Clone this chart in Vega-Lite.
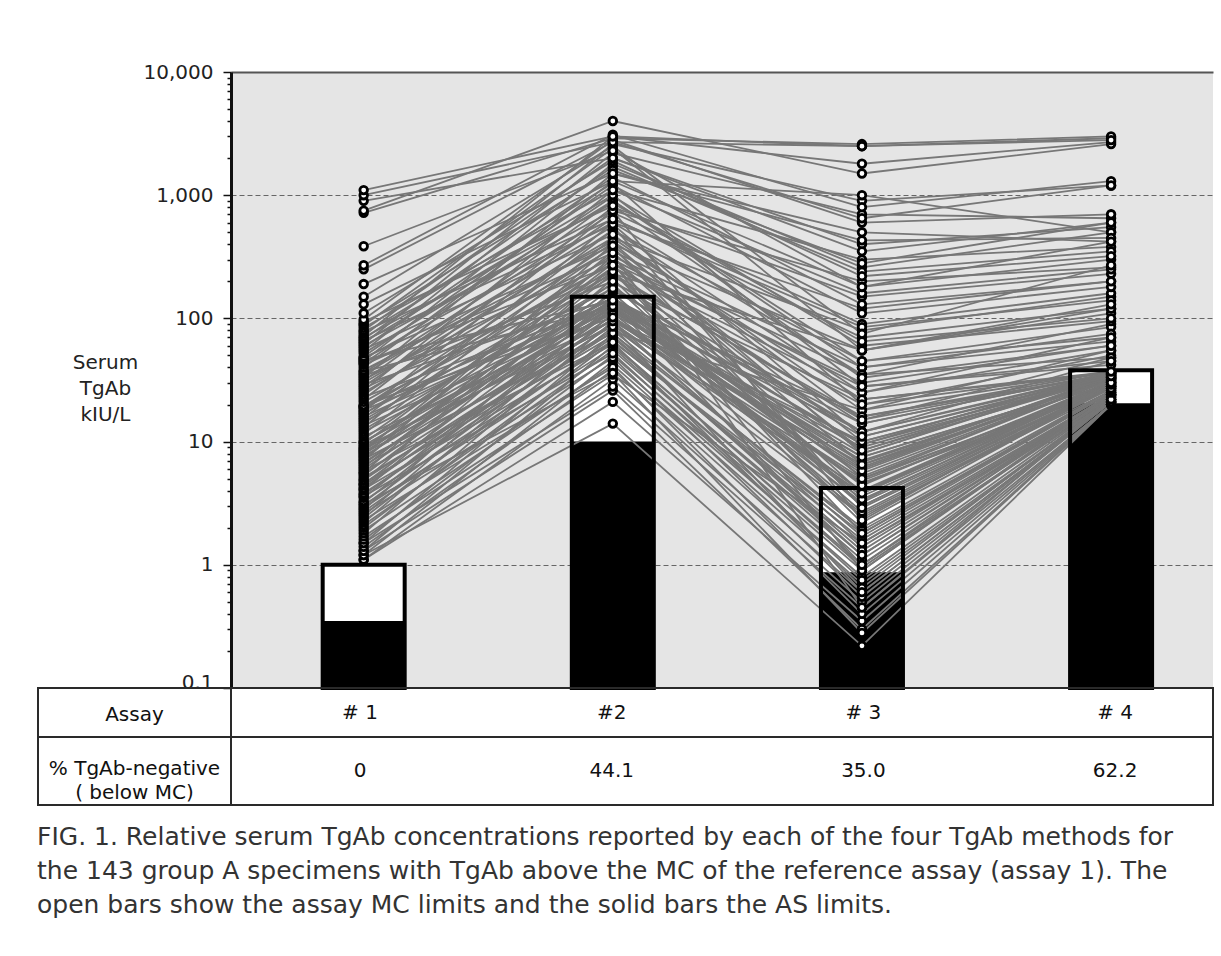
{
  "$schema": "https://vega.github.io/schema/vega-lite/v6.json",
  "background": "white",
  "padding": {"left": 37, "top": 62, "right": 8, "bottom": 20},
  "config": {
    "view": {"stroke": "#2a2a2a", "strokeWidth": 2},
    "font": "DejaVu Sans",
    "text": {"font": "DejaVu Sans"}
  },
  "title": {
    "text": [
      "FIG. 1.  Relative serum TgAb concentrations reported by each of the four TgAb methods for",
      "the 143 group A specimens with TgAb above the MC of the reference assay (assay 1). The",
      "open bars show the assay MC limits and the solid bars the AS limits."
    ],
    "orient": "bottom",
    "anchor": "start",
    "font": "DejaVu Sans",
    "fontSize": 25,
    "fontWeight": "normal",
    "color": "#333333",
    "lineHeight": 34,
    "baseline": "top",
    "offset": 19
  },
  "datasets": {
    "bars": [
      {"assay": 1, "mc": 1.0, "as": 0.35},
      {"assay": 2, "mc": 150, "as": 10},
      {"assay": 3, "mc": 4.2, "as": 0.87},
      {"assay": 4, "mc": 38, "as": 20.5}
    ],
    "table": [
      {"row": "assay", "assay": 1, "text": "# 1"},
      {"row": "assay", "assay": 2, "text": "#2"},
      {"row": "assay", "assay": 3, "text": "# 3"},
      {"row": "assay", "assay": 4, "text": "# 4"},
      {"row": "neg", "assay": 1, "text": "0"},
      {"row": "neg", "assay": 2, "text": "44.1"},
      {"row": "neg", "assay": 3, "text": "35.0"},
      {"row": "neg", "assay": 4, "text": "62.2"}
    ],
    "spec": [
      {"s":1,"a":1,"v":1.1},{"s":1,"a":2,"v":21},{"s":1,"a":3,"v":0.35},{"s":1,"a":4,"v":20},
      {"s":2,"a":1,"v":1.1},{"s":2,"a":2,"v":32},{"s":2,"a":3,"v":0.5},{"s":2,"a":4,"v":21},
      {"s":3,"a":1,"v":1.2},{"s":3,"a":2,"v":14},{"s":3,"a":3,"v":0.22},{"s":3,"a":4,"v":20},
      {"s":4,"a":1,"v":1.2},{"s":4,"a":2,"v":45},{"s":4,"a":3,"v":0.8},{"s":4,"a":4,"v":22},
      {"s":5,"a":1,"v":1.3},{"s":5,"a":2,"v":26},{"s":5,"a":3,"v":0.3},{"s":5,"a":4,"v":20},
      {"s":6,"a":1,"v":1.3},{"s":6,"a":2,"v":60},{"s":6,"a":3,"v":1.2},{"s":6,"a":4,"v":24},
      {"s":7,"a":1,"v":1.4},{"s":7,"a":2,"v":38},{"s":7,"a":3,"v":0.6},{"s":7,"a":4,"v":21},
      {"s":8,"a":1,"v":1.5},{"s":8,"a":2,"v":28},{"s":8,"a":3,"v":0.45},{"s":8,"a":4,"v":20},
      {"s":9,"a":1,"v":1.5},{"s":9,"a":2,"v":75},{"s":9,"a":3,"v":2.0},{"s":9,"a":4,"v":26},
      {"s":10,"a":1,"v":1.6},{"s":10,"a":2,"v":50},{"s":10,"a":3,"v":0.9},{"s":10,"a":4,"v":23},
      {"s":11,"a":1,"v":1.7},{"s":11,"a":2,"v":35},{"s":11,"a":3,"v":1.5},{"s":11,"a":4,"v":22},
      {"s":12,"a":1,"v":1.8},{"s":12,"a":2,"v":95},{"s":12,"a":3,"v":6.5},{"s":12,"a":4,"v":30},
      {"s":13,"a":1,"v":1.9},{"s":13,"a":2,"v":42},{"s":13,"a":3,"v":0.7},{"s":13,"a":4,"v":21},
      {"s":14,"a":1,"v":2.0},{"s":14,"a":2,"v":65},{"s":14,"a":3,"v":1.8},{"s":14,"a":4,"v":25},
      {"s":15,"a":1,"v":2.1},{"s":15,"a":2,"v":55},{"s":15,"a":3,"v":1.0},{"s":15,"a":4,"v":22},
      {"s":16,"a":1,"v":2.2},{"s":16,"a":2,"v":110},{"s":16,"a":3,"v":3.2},{"s":16,"a":4,"v":28},
      {"s":17,"a":1,"v":2.3},{"s":17,"a":2,"v":40},{"s":17,"a":3,"v":0.4},{"s":17,"a":4,"v":20},
      {"s":18,"a":1,"v":2.4},{"s":18,"a":2,"v":85},{"s":18,"a":3,"v":2.5},{"s":18,"a":4,"v":26},
      {"s":19,"a":1,"v":2.5},{"s":19,"a":2,"v":130},{"s":19,"a":3,"v":8.0},{"s":19,"a":4,"v":35},
      {"s":20,"a":1,"v":2.6},{"s":20,"a":2,"v":48},{"s":20,"a":3,"v":0.55},{"s":20,"a":4,"v":21},
      {"s":21,"a":1,"v":2.7},{"s":21,"a":2,"v":70},{"s":21,"a":3,"v":1.4},{"s":21,"a":4,"v":24},
      {"s":22,"a":1,"v":2.8},{"s":22,"a":2,"v":170},{"s":22,"a":3,"v":12},{"s":22,"a":4,"v":45},
      {"s":23,"a":1,"v":2.9},{"s":23,"a":2,"v":58},{"s":23,"a":3,"v":0.95},{"s":23,"a":4,"v":22},
      {"s":24,"a":1,"v":3.0},{"s":24,"a":2,"v":92},{"s":24,"a":3,"v":3.8},{"s":24,"a":4,"v":30},
      {"s":25,"a":1,"v":3.1},{"s":25,"a":2,"v":36},{"s":25,"a":3,"v":0.28},{"s":25,"a":4,"v":20},
      {"s":26,"a":1,"v":3.2},{"s":26,"a":2,"v":120},{"s":26,"a":3,"v":5.5},{"s":26,"a":4,"v":32},
      {"s":27,"a":1,"v":3.3},{"s":27,"a":2,"v":66},{"s":27,"a":3,"v":1.6},{"s":27,"a":4,"v":24},
      {"s":28,"a":1,"v":3.5},{"s":28,"a":2,"v":140},{"s":28,"a":3,"v":9.5},{"s":28,"a":4,"v":37},
      {"s":29,"a":1,"v":3.6},{"s":29,"a":2,"v":52},{"s":29,"a":3,"v":0.75},{"s":29,"a":4,"v":21},
      {"s":30,"a":1,"v":3.7},{"s":30,"a":2,"v":100},{"s":30,"a":3,"v":5.0},{"s":30,"a":4,"v":27},
      {"s":31,"a":1,"v":3.8},{"s":31,"a":2,"v":78},{"s":31,"a":3,"v":18},{"s":31,"a":4,"v":55},
      {"s":32,"a":1,"v":4.0},{"s":32,"a":2,"v":210},{"s":32,"a":3,"v":2.2},{"s":32,"a":4,"v":28},
      {"s":33,"a":1,"v":4.1},{"s":33,"a":2,"v":62},{"s":33,"a":3,"v":1.1},{"s":33,"a":4,"v":23},
      {"s":34,"a":1,"v":4.2},{"s":34,"a":2,"v":115},{"s":34,"a":3,"v":6.0},{"s":34,"a":4,"v":33},
      {"s":35,"a":1,"v":4.4},{"s":35,"a":2,"v":88},{"s":35,"a":3,"v":4.8},{"s":35,"a":4,"v":29},
      {"s":36,"a":1,"v":4.5},{"s":36,"a":2,"v":145},{"s":36,"a":3,"v":14},{"s":36,"a":4,"v":36},
      {"s":37,"a":1,"v":4.6},{"s":37,"a":2,"v":72},{"s":37,"a":3,"v":1.3},{"s":37,"a":4,"v":24},
      {"s":38,"a":1,"v":4.8},{"s":38,"a":2,"v":260},{"s":38,"a":3,"v":25},{"s":38,"a":4,"v":70},
      {"s":39,"a":1,"v":4.9},{"s":39,"a":2,"v":98},{"s":39,"a":3,"v":4.0},{"s":39,"a":4,"v":31},
      {"s":40,"a":1,"v":5.1},{"s":40,"a":2,"v":80},{"s":40,"a":3,"v":1.9},{"s":40,"a":4,"v":25},
      {"s":41,"a":1,"v":5.3},{"s":41,"a":2,"v":180},{"s":41,"a":3,"v":8.5},{"s":41,"a":4,"v":36},
      {"s":42,"a":1,"v":5.5},{"s":42,"a":2,"v":105},{"s":42,"a":3,"v":2.6},{"s":42,"a":4,"v":27},
      {"s":43,"a":1,"v":5.6},{"s":43,"a":2,"v":320},{"s":43,"a":3,"v":35},{"s":43,"a":4,"v":90},
      {"s":44,"a":1,"v":5.8},{"s":44,"a":2,"v":64},{"s":44,"a":3,"v":0.65},{"s":44,"a":4,"v":22},
      {"s":45,"a":1,"v":6.0},{"s":45,"a":2,"v":135},{"s":45,"a":3,"v":4.5},{"s":45,"a":4,"v":30},
      {"s":46,"a":1,"v":6.2},{"s":46,"a":2,"v":230},{"s":46,"a":3,"v":15},{"s":46,"a":4,"v":48},
      {"s":47,"a":1,"v":6.4},{"s":47,"a":2,"v":90},{"s":47,"a":3,"v":1.7},{"s":47,"a":4,"v":25},
      {"s":48,"a":1,"v":6.6},{"s":48,"a":2,"v":160},{"s":48,"a":3,"v":3.0},{"s":48,"a":4,"v":28},
      {"s":49,"a":1,"v":6.8},{"s":49,"a":2,"v":118},{"s":49,"a":3,"v":6.8},{"s":49,"a":4,"v":33},
      {"s":50,"a":1,"v":7.0},{"s":50,"a":2,"v":400},{"s":50,"a":3,"v":55},{"s":50,"a":4,"v":120},
      {"s":51,"a":1,"v":7.2},{"s":51,"a":2,"v":76},{"s":51,"a":3,"v":1.2},{"s":51,"a":4,"v":23},
      {"s":52,"a":1,"v":7.4},{"s":52,"a":2,"v":195},{"s":52,"a":3,"v":22},{"s":52,"a":4,"v":37},
      {"s":53,"a":1,"v":7.6},{"s":53,"a":2,"v":125},{"s":53,"a":3,"v":3.6},{"s":53,"a":4,"v":29},
      {"s":54,"a":1,"v":7.8},{"s":54,"a":2,"v":280},{"s":54,"a":3,"v":0.9},{"s":54,"a":4,"v":24},
      {"s":55,"a":1,"v":8.0},{"s":55,"a":2,"v":98},{"s":55,"a":3,"v":10},{"s":55,"a":4,"v":34},
      {"s":56,"a":1,"v":8.2},{"s":56,"a":2,"v":142},{"s":56,"a":3,"v":4.6},{"s":56,"a":4,"v":27},
      {"s":57,"a":1,"v":8.4},{"s":57,"a":2,"v":350},{"s":57,"a":3,"v":40},{"s":57,"a":4,"v":65},
      {"s":58,"a":1,"v":8.6},{"s":58,"a":2,"v":112},{"s":58,"a":3,"v":7.5},{"s":58,"a":4,"v":31},
      {"s":59,"a":1,"v":8.8},{"s":59,"a":2,"v":240},{"s":59,"a":3,"v":3.3},{"s":59,"a":4,"v":30},
      {"s":60,"a":1,"v":9.0},{"s":60,"a":2,"v":86},{"s":60,"a":3,"v":0.6},{"s":60,"a":4,"v":21},
      {"s":61,"a":1,"v":9.3},{"s":61,"a":2,"v":128},{"s":61,"a":3,"v":12},{"s":61,"a":4,"v":36},
      {"s":62,"a":1,"v":9.6},{"s":62,"a":2,"v":300},{"s":62,"a":3,"v":28},{"s":62,"a":4,"v":42},
      {"s":63,"a":1,"v":9.9},{"s":63,"a":2,"v":148},{"s":63,"a":3,"v":5.2},{"s":63,"a":4,"v":32},
      {"s":64,"a":1,"v":10},{"s":64,"a":2,"v":120},{"s":64,"a":3,"v":3.9},{"s":64,"a":4,"v":30},
      {"s":65,"a":1,"v":10.5},{"s":65,"a":2,"v":260},{"s":65,"a":3,"v":20},{"s":65,"a":4,"v":50},
      {"s":66,"a":1,"v":11},{"s":66,"a":2,"v":95},{"s":66,"a":3,"v":1.5},{"s":66,"a":4,"v":24},
      {"s":67,"a":1,"v":11.5},{"s":67,"a":2,"v":450},{"s":67,"a":3,"v":80},{"s":67,"a":4,"v":150},
      {"s":68,"a":1,"v":12},{"s":68,"a":2,"v":138},{"s":68,"a":3,"v":6.2},{"s":68,"a":4,"v":33},
      {"s":69,"a":1,"v":12.5},{"s":69,"a":2,"v":190},{"s":69,"a":3,"v":2.4},{"s":69,"a":4,"v":28},
      {"s":70,"a":1,"v":13},{"s":70,"a":2,"v":600},{"s":70,"a":3,"v":120},{"s":70,"a":4,"v":200},
      {"s":71,"a":1,"v":13.5},{"s":71,"a":2,"v":108},{"s":71,"a":3,"v":9.0},{"s":71,"a":4,"v":34},
      {"s":72,"a":1,"v":14},{"s":72,"a":2,"v":330},{"s":72,"a":3,"v":0.45},{"s":72,"a":4,"v":22},
      {"s":73,"a":1,"v":14.5},{"s":73,"a":2,"v":146},{"s":73,"a":3,"v":4.4},{"s":73,"a":4,"v":31},
      {"s":74,"a":1,"v":15},{"s":74,"a":2,"v":220},{"s":74,"a":3,"v":16},{"s":74,"a":4,"v":37},
      {"s":75,"a":1,"v":15.5},{"s":75,"a":2,"v":520},{"s":75,"a":3,"v":45},{"s":75,"a":4,"v":85},
      {"s":76,"a":1,"v":16},{"s":76,"a":2,"v":132},{"s":76,"a":3,"v":1.0},{"s":76,"a":4,"v":25},
      {"s":77,"a":1,"v":16.5},{"s":77,"a":2,"v":380},{"s":77,"a":3,"v":3.0},{"s":77,"a":4,"v":29},
      {"s":78,"a":1,"v":17},{"s":78,"a":2,"v":175},{"s":78,"a":3,"v":11},{"s":78,"a":4,"v":35},
      {"s":79,"a":1,"v":17.5},{"s":79,"a":2,"v":750},{"s":79,"a":3,"v":200},{"s":79,"a":4,"v":260},
      {"s":80,"a":1,"v":18},{"s":80,"a":2,"v":125},{"s":80,"a":3,"v":7.0},{"s":80,"a":4,"v":32},
      {"s":81,"a":1,"v":18.5},{"s":81,"a":2,"v":280},{"s":81,"a":3,"v":30},{"s":81,"a":4,"v":60},
      {"s":82,"a":1,"v":19},{"s":82,"a":2,"v":143},{"s":82,"a":3,"v":2.7},{"s":82,"a":4,"v":28},
      {"s":83,"a":1,"v":19.2},{"s":83,"a":2,"v":410},{"s":83,"a":3,"v":8.0},{"s":83,"a":4,"v":36},
      {"s":84,"a":1,"v":19.5},{"s":84,"a":2,"v":230},{"s":84,"a":3,"v":55},{"s":84,"a":4,"v":110},
      {"s":85,"a":1,"v":19.8},{"s":85,"a":2,"v":102},{"s":85,"a":3,"v":5.8},{"s":85,"a":4,"v":33},
      {"s":86,"a":1,"v":21},{"s":86,"a":2,"v":280},{"s":86,"a":3,"v":14},{"s":86,"a":4,"v":36},
      {"s":87,"a":1,"v":22},{"s":87,"a":2,"v":800},{"s":87,"a":3,"v":150},{"s":87,"a":4,"v":230},
      {"s":88,"a":1,"v":23},{"s":88,"a":2,"v":130},{"s":88,"a":3,"v":3.4},{"s":88,"a":4,"v":28},
      {"s":89,"a":1,"v":24},{"s":89,"a":2,"v":520},{"s":89,"a":3,"v":25},{"s":89,"a":4,"v":55},
      {"s":90,"a":1,"v":25},{"s":90,"a":2,"v":370},{"s":90,"a":3,"v":6.5},{"s":90,"a":4,"v":34},
      {"s":91,"a":1,"v":26},{"s":91,"a":2,"v":1100},{"s":91,"a":3,"v":300},{"s":91,"a":4,"v":380},
      {"s":92,"a":1,"v":27},{"s":92,"a":2,"v":240},{"s":92,"a":3,"v":1.8},{"s":92,"a":4,"v":26},
      {"s":93,"a":1,"v":28},{"s":93,"a":2,"v":650},{"s":93,"a":3,"v":70},{"s":93,"a":4,"v":120},
      {"s":94,"a":1,"v":29},{"s":94,"a":2,"v":145},{"s":94,"a":3,"v":9.5},{"s":94,"a":4,"v":33},
      {"s":95,"a":1,"v":30},{"s":95,"a":2,"v":450},{"s":95,"a":3,"v":18},{"s":95,"a":4,"v":37},
      {"s":96,"a":1,"v":31},{"s":96,"a":2,"v":900},{"s":96,"a":3,"v":40},{"s":96,"a":4,"v":75},
      {"s":97,"a":1,"v":32},{"s":97,"a":2,"v":310},{"s":97,"a":3,"v":5.0},{"s":97,"a":4,"v":32},
      {"s":98,"a":1,"v":33},{"s":98,"a":2,"v":1500},{"s":98,"a":3,"v":500},{"s":98,"a":4,"v":420},
      {"s":99,"a":1,"v":34},{"s":99,"a":2,"v":200},{"s":99,"a":3,"v":12},{"s":99,"a":4,"v":35},
      {"s":100,"a":1,"v":35},{"s":100,"a":2,"v":560},{"s":100,"a":3,"v":2.9},{"s":100,"a":4,"v":27},
      {"s":101,"a":1,"v":36},{"s":101,"a":2,"v":720},{"s":101,"a":3,"v":90},{"s":101,"a":4,"v":160},
      {"s":102,"a":1,"v":37},{"s":102,"a":2,"v":125},{"s":102,"a":3,"v":7.5},{"s":102,"a":4,"v":31},
      {"s":103,"a":1,"v":38},{"s":103,"a":2,"v":420},{"s":103,"a":3,"v":22},{"s":103,"a":4,"v":36},
      {"s":104,"a":1,"v":40},{"s":104,"a":2,"v":1300},{"s":104,"a":3,"v":180},{"s":104,"a":4,"v":300},
      {"s":105,"a":1,"v":42},{"s":105,"a":2,"v":340},{"s":105,"a":3,"v":8.5},{"s":105,"a":4,"v":33},
      {"s":106,"a":1,"v":43},{"s":106,"a":2,"v":980},{"s":106,"a":3,"v":60},{"s":106,"a":4,"v":95},
      {"s":107,"a":1,"v":44},{"s":107,"a":2,"v":270},{"s":107,"a":3,"v":3.8},{"s":107,"a":4,"v":29},
      {"s":108,"a":1,"v":45},{"s":108,"a":2,"v":1800},{"s":108,"a":3,"v":260},{"s":108,"a":4,"v":500},
      {"s":109,"a":1,"v":46},{"s":109,"a":2,"v":140},{"s":109,"a":3,"v":16},{"s":109,"a":4,"v":35},
      {"s":110,"a":1,"v":47},{"s":110,"a":2,"v":600},{"s":110,"a":3,"v":35},{"s":110,"a":4,"v":48},
      {"s":111,"a":1,"v":48},{"s":111,"a":2,"v":390},{"s":111,"a":3,"v":10},{"s":111,"a":4,"v":34},
      {"s":112,"a":1,"v":49},{"s":112,"a":2,"v":1200},{"s":112,"a":3,"v":110},{"s":112,"a":4,"v":180},
      {"s":113,"a":1,"v":52},{"s":113,"a":2,"v":900},{"s":113,"a":3,"v":45},{"s":113,"a":4,"v":70},
      {"s":114,"a":1,"v":54},{"s":114,"a":2,"v":2200},{"s":114,"a":3,"v":700},{"s":114,"a":4,"v":650},
      {"s":115,"a":1,"v":56},{"s":115,"a":2,"v":480},{"s":115,"a":3,"v":15},{"s":115,"a":4,"v":36},
      {"s":116,"a":1,"v":58},{"s":116,"a":2,"v":1400},{"s":116,"a":3,"v":130},{"s":116,"a":4,"v":200},
      {"s":117,"a":1,"v":60},{"s":117,"a":2,"v":750},{"s":117,"a":3,"v":2.3},{"s":117,"a":4,"v":30},
      {"s":118,"a":1,"v":62},{"s":118,"a":2,"v":2600},{"s":118,"a":3,"v":900},{"s":118,"a":4,"v":1200},
      {"s":119,"a":1,"v":64},{"s":119,"a":2,"v":1000},{"s":119,"a":3,"v":28},{"s":119,"a":4,"v":45},
      {"s":120,"a":1,"v":66},{"s":120,"a":2,"v":580},{"s":120,"a":3,"v":11},{"s":120,"a":4,"v":34},
      {"s":121,"a":1,"v":68},{"s":121,"a":2,"v":1700},{"s":121,"a":3,"v":240},{"s":121,"a":4,"v":350},
      {"s":122,"a":1,"v":70},{"s":122,"a":2,"v":860},{"s":122,"a":3,"v":65},{"s":122,"a":4,"v":100},
      {"s":123,"a":1,"v":72},{"s":123,"a":2,"v":3000},{"s":123,"a":3,"v":1800},{"s":123,"a":4,"v":2700},
      {"s":124,"a":1,"v":75},{"s":124,"a":2,"v":1250},{"s":124,"a":3,"v":20},{"s":124,"a":4,"v":37},
      {"s":125,"a":1,"v":78},{"s":125,"a":2,"v":640},{"s":125,"a":3,"v":85},{"s":125,"a":4,"v":140},
      {"s":126,"a":1,"v":80},{"s":126,"a":2,"v":2000},{"s":126,"a":3,"v":400},{"s":126,"a":4,"v":550},
      {"s":127,"a":1,"v":84},{"s":127,"a":2,"v":1100},{"s":127,"a":3,"v":160},{"s":127,"a":4,"v":250},
      {"s":128,"a":1,"v":88},{"s":128,"a":2,"v":2400},{"s":128,"a":3,"v":55},{"s":128,"a":4,"v":130},
      {"s":129,"a":1,"v":90},{"s":129,"a":2,"v":1600},{"s":129,"a":3,"v":280},{"s":129,"a":4,"v":600},
      {"s":130,"a":1,"v":94},{"s":130,"a":2,"v":820},{"s":130,"a":3,"v":33},{"s":130,"a":4,"v":60},
      {"s":131,"a":1,"v":98},{"s":131,"a":2,"v":2800},{"s":131,"a":3,"v":600},{"s":131,"a":4,"v":700},
      {"s":132,"a":1,"v":110},{"s":132,"a":2,"v":1900},{"s":132,"a":3,"v":220},{"s":132,"a":4,"v":320},
      {"s":133,"a":1,"v":130},{"s":133,"a":2,"v":1300},{"s":133,"a":3,"v":1000},{"s":133,"a":4,"v":500},
      {"s":134,"a":1,"v":150},{"s":134,"a":2,"v":2500},{"s":134,"a":3,"v":75},{"s":134,"a":4,"v":270},
      {"s":135,"a":1,"v":190},{"s":135,"a":2,"v":1500},{"s":135,"a":3,"v":430},{"s":135,"a":4,"v":450},
      {"s":136,"a":1,"v":250},{"s":136,"a":2,"v":2700},{"s":136,"a":3,"v":2500},{"s":136,"a":4,"v":2900},
      {"s":137,"a":1,"v":270},{"s":137,"a":2,"v":3100},{"s":137,"a":3,"v":800},{"s":137,"a":4,"v":1300},
      {"s":138,"a":1,"v":385},{"s":138,"a":2,"v":2300},{"s":138,"a":3,"v":180},{"s":138,"a":4,"v":420},
      {"s":139,"a":1,"v":720},{"s":139,"a":2,"v":2900},{"s":139,"a":3,"v":2600},{"s":139,"a":4,"v":3000},
      {"s":140,"a":1,"v":750},{"s":140,"a":2,"v":4000},{"s":140,"a":3,"v":1500},{"s":140,"a":4,"v":2600},
      {"s":141,"a":1,"v":900},{"s":141,"a":2,"v":2000},{"s":141,"a":3,"v":350},{"s":141,"a":4,"v":600},
      {"s":142,"a":1,"v":1000},{"s":142,"a":2,"v":2700},{"s":142,"a":3,"v":650},{"s":142,"a":4,"v":1200},
      {"s":143,"a":1,"v":1100},{"s":143,"a":2,"v":3000},{"s":143,"a":3,"v":2500},{"s":143,"a":4,"v":2800}
    ]
  },
  "columns": 2,
  "spacing": 0,
  "bounds": "flush",
  "resolve": {"scale": {"x": "independent", "y": "independent"}},
  "concat": [
    {
      "width": 193,
      "height": 616,
      "view": {"stroke": null},
      "data": {"values": [{"blank": ""}]},
      "mark": {"type": "text"},
      "encoding": {"text": {"field": "blank"}}
    },
    {
      "width": 982,
      "height": 616,
      "view": {"fill": "#e5e5e5", "stroke": null},
      "resolve": {"axis": {"y": "independent"}},
      "layer": [
        {
          "data": {"name": "bars"},
          "mark": {"type": "bar", "width": 82, "fill": "white"},
          "encoding": {
            "x": {"field": "assay", "type": "quantitative", "scale": {"domain": [0.4875, 4.389], "nice": false, "zero": false}, "axis": null},
            "y": {
              "field": "mc", "type": "quantitative",
              "scale": {"type": "log", "domain": [0.1, 10000], "nice": false},
              "axis": {
                "orient": "left",
                "title": ["Serum", "TgAb", "kIU/L"],
                "titleAngle": 0,
                "titleAlign": "center",
                "titleBaseline": "top",
                "titleX": -126,
                "titleY": 280,
                "titleFont": "DejaVu Sans",
                "titleFontSize": 20,
                "titleFontWeight": "normal",
                "titleColor": "#222222",
                "titleLineHeight": 26,
                "values": [0.1, 1, 10, 100, 1000, 10000],
                "format": ",",
                "labelFont": "DejaVu Sans",
                "labelFontSize": 20,
                "labelColor": "#222222",
                "labelPadding": 10,
                "labelOverlap": false,
                "labelBaseline": {"condition": {"test": "datum.value == 0.1", "value": "alphabetic"}, "value": "middle"},
                "domainColor": "#111111",
                "domainWidth": 3,
                "tickColor": "#111111",
                "tickWidth": 1.5,
                "tickSize": 8,
                "grid": true,
                "gridColor": {"condition": {"test": "datum.value == 10000", "value": "#555555"}, "value": "#666666"},
                "gridWidth": {"condition": {"test": "datum.value == 10000", "value": 2}, "value": 1},
                "gridDash": {"condition": {"test": "datum.value == 10000", "value": []}, "value": [5, 3]},
                "gridOpacity": {"condition": {"test": "datum.value == 0.1", "value": 0}, "value": 1}
              }
            },
            "y2": {"datum": 0.1}
          }
        },
        {
          "data": {"name": "bars"},
          "mark": {"type": "bar", "width": 82, "fill": "black"},
          "encoding": {
            "x": {"field": "assay", "type": "quantitative", "axis": null},
            "y": {"field": "as", "type": "quantitative", "axis": null},
            "y2": {"datum": 0.1}
          }
        },
        {
          "data": {"name": "spec"},
          "mark": {"type": "line", "stroke": "#777777", "strokeWidth": 1.8},
          "encoding": {
            "x": {"field": "a", "type": "quantitative", "axis": null},
            "y": {"field": "v", "type": "quantitative", "axis": null},
            "detail": {"field": "s", "type": "nominal"}
          }
        },
        {
          "data": {"name": "bars"},
          "mark": {"type": "bar", "width": 82, "filled": false, "stroke": "black", "strokeWidth": 4},
          "encoding": {
            "x": {"field": "assay", "type": "quantitative", "axis": null},
            "y": {"field": "mc", "type": "quantitative", "axis": null},
            "y2": {"datum": 0.1}
          }
        },
        {
          "data": {"name": "spec"},
          "mark": {"type": "point", "shape": "circle", "filled": true, "fill": "white", "stroke": "black", "strokeWidth": 2.8, "size": 58, "opacity": 1},
          "encoding": {
            "x": {"field": "a", "type": "quantitative", "axis": null},
            "y": {
              "field": "v", "type": "quantitative",
              "axis": {
                "orient": "left",
                "title": null,
                "values": [0.2,0.3,0.4,0.5,0.6,0.7,0.8,0.9,2,3,4,5,6,7,8,9,20,30,40,50,60,70,80,90,200,300,400,500,600,700,800,900,2000,3000,4000,5000,6000,7000,8000,9000],
                "labels": false,
                "domain": false,
                "grid": false,
                "tickColor": "#111111",
                "tickWidth": 1.5,
                "tickSize": 4
              }
            }
          }
        }
      ]
    },
    {
      "width": 193,
      "height": 49,
      "data": {"values": [{"label": "Assay"}]},
      "mark": {"type": "text", "fontSize": 20, "color": "#111111", "dy": 2},
      "encoding": {
        "x": {"datum": 0.5, "type": "quantitative", "scale": {"domain": [0, 1]}, "axis": null},
        "text": {"field": "label"}
      }
    },
    {
      "width": 982,
      "height": 49,
      "data": {"name": "table"},
      "transform": [{"filter": "datum.row == 'assay'"}],
      "mark": {"type": "text", "fontSize": 20, "color": "#111111"},
      "encoding": {
        "x": {"field": "assay", "type": "quantitative", "scale": {"domain": [0.4875, 4.389], "nice": false, "zero": false}, "axis": null},
        "text": {"field": "text"}
      }
    },
    {
      "width": 193,
      "height": 68,
      "data": {"values": [{"label": ["% TgAb-negative", "( below MC)"]}]},
      "mark": {"type": "text", "fontSize": 20, "color": "#111111", "lineHeight": 24, "dy": -2},
      "encoding": {
        "x": {"datum": 0.5, "type": "quantitative", "scale": {"domain": [0, 1]}, "axis": null},
        "text": {"field": "label"}
      }
    },
    {
      "width": 982,
      "height": 68,
      "data": {"name": "table"},
      "transform": [{"filter": "datum.row == 'neg'"}],
      "mark": {"type": "text", "fontSize": 20, "color": "#111111"},
      "encoding": {
        "x": {"field": "assay", "type": "quantitative", "scale": {"domain": [0.4875, 4.389], "nice": false, "zero": false}, "axis": null},
        "text": {"field": "text"}
      }
    }
  ]
}
